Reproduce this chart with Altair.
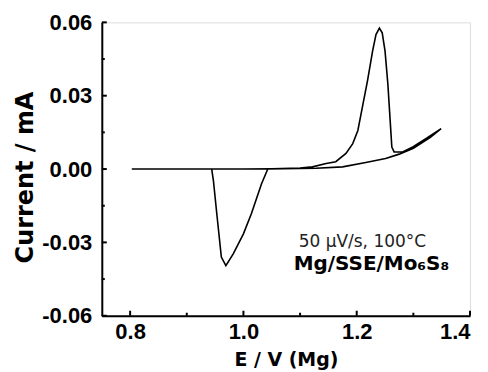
import altair as alt
import pandas as pd

# CV curve, in scan order
E = [0.803, 0.90, 1.00, 1.05, 1.10, 1.122, 1.146, 1.163, 1.181, 1.193, 1.202, 1.210,
     1.219, 1.228, 1.234, 1.240, 1.245, 1.250, 1.255, 1.259, 1.262, 1.266, 1.281,
     1.299, 1.322, 1.349,
     1.33, 1.30, 1.275, 1.251, 1.216, 1.175, 1.128, 1.043, 1.032, 1.014, 1.000,
     0.982, 0.969, 0.961, 0.953, 0.947, 0.944, 0.90, 0.803]
I = [0.0, 0.0, 0.0, 0.0001, 0.0004, 0.0009, 0.0023, 0.003, 0.0064, 0.0104, 0.0158, 0.0253,
     0.0361, 0.0482, 0.055, 0.0576, 0.0557, 0.0482, 0.0347, 0.0199, 0.009, 0.007, 0.007,
     0.009, 0.0124, 0.0165,
     0.0130, 0.0085, 0.0061, 0.0043, 0.0027, 0.0009, 0.0003, 0.0, -0.006, -0.0183, -0.0265,
     -0.0347, -0.0395, -0.036, -0.0183, -0.0047, 0.0, 0.0, 0.0]

x_major = [0.8, 1.0, 1.2, 1.4]
x_minor = [0.9, 1.1, 1.3]
y_major = [-0.06, -0.03, 0.0, 0.03, 0.06]
y_minor = [-0.045, -0.015, 0.015, 0.045]

note_text = ["50 μV/s, 100°C", "Mg/SSE/Mo₆S₈"]
note_E = [1.21, 1.226]
note_I = [-0.030, -0.039]

W, H = 369, 294

df = pd.DataFrame({"E": E, "I": I, "k": list(range(len(E)))})
notes = pd.DataFrame({"E": note_E, "I": note_I, "t": note_text})

FONT = "Liberation Sans"
TFONT = "DejaVu Sans"
xs = alt.Scale(domain=[0.75, 1.4], nice=False, zero=False)
ys = alt.Scale(domain=[-0.06, 0.06], nice=False, zero=False)

line = alt.Chart(df).mark_line(color="black", strokeWidth=1.6).encode(
    x=alt.X("E:Q", scale=xs, axis=alt.Axis(
        values=x_major, format=".1f", orient="bottom", title="E / V  (Mg)",
        ticks=False, grid=False, domainColor="black", domainWidth=2,
        labelFont=FONT, labelFontSize=22, labelFontWeight="bold", labelColor="black",
        labelPadding=6, titleFont=TFONT, titleFontSize=19, titleFontWeight="bold",
        titleColor="black", titlePadding=8)),
    y=alt.Y("I:Q", scale=ys, axis=alt.Axis(
        values=y_major, orient="left", title="Current / mA",
        labelExpr="replace(format(datum.value, '.2f'), '\u2212', '-')",
        ticks=False, grid=False, domainColor="black", domainWidth=2,
        labelFont=FONT, labelFontSize=22, labelFontWeight="bold", labelColor="black",
        labelPadding=10, titleFont=TFONT, titleFontSize=24, titleFontWeight="bold",
        titleColor="black", titleX=-76, titleY=155, titleBaseline="middle")),
    order="k:Q",
)

def xticks(vals, size):
    d = pd.DataFrame({"E": vals})
    return alt.Chart(d).mark_rule(color="black", strokeWidth=2).encode(
        x=alt.X("E:Q", scale=xs),
        y=alt.value(H), y2=alt.value(H - size))

def yticks(vals, size):
    d = pd.DataFrame({"I": vals})
    return alt.Chart(d).mark_rule(color="black", strokeWidth=2).encode(
        y=alt.Y("I:Q", scale=ys),
        x=alt.value(0), x2=alt.value(size))

note1 = alt.Chart(notes.iloc[[0]]).mark_text(
    font=TFONT, fontSize=17, color="#222", align="center", baseline="middle"
).encode(x=alt.X("E:Q", scale=xs), y=alt.Y("I:Q", scale=ys), text="t:N")

note2 = alt.Chart(notes.iloc[[1]]).mark_text(
    font=TFONT, fontSize=20, fontWeight="bold", color="black", align="center", baseline="middle"
).encode(x=alt.X("E:Q", scale=xs), y=alt.Y("I:Q", scale=ys), text="t:N")

chart = alt.layer(
    line, xticks(x_major, 5), xticks(x_minor, 3), yticks(y_major, 5), yticks(y_minor, 3),
    note1, note2,
).properties(
    width=W, height=H,
    padding={"left": 94, "top": 14, "right": 10, "bottom": 56},
    autosize="none",
).configure_view(stroke="black", strokeWidth=1.2).configure(background="white")

chart.save("out.html", embed_options={"renderer": "svg", "actions": False})
